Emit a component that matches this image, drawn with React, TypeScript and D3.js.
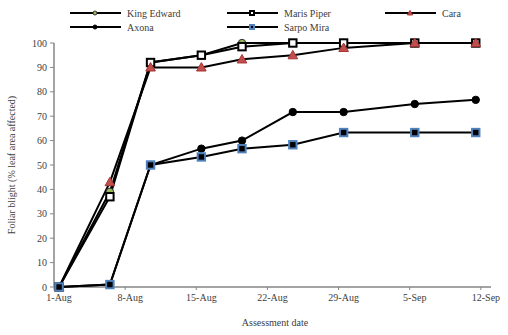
import React from "react";
import * as d3 from "d3";

const dates = ["2015-08-01", "2015-08-06", "2015-08-10", "2015-08-15", "2015-08-19", "2015-08-24", "2015-08-29", "2015-09-05", "2015-09-11"];
const kingEdward = [0, 39, 92, 95, 100, 100, 100, 100, 100];
const marisPiper = [0, 37, 92, 95, 98.5, 100, 100, 100, 100];
const cara = [0, 43, 90, 90, 93.3, 95, 98, 100, 100];
const axona = [0, 1, 50, 56.7, 60, 71.7, 71.7, 75, 76.7];
const sarpoMira = [0, 1, 50, 53.3, 56.7, 58.3, 63.3, 63.3, 63.3];
const tickDates = ["2015-08-01", "2015-08-08", "2015-08-15", "2015-08-22", "2015-08-29", "2015-09-05", "2015-09-12"];
const yTicks = [0, 10, 20, 30, 40, 50, 60, 70, 80, 90, 100];

const parse = d3.utcParse("%Y-%m-%d");
const fmt = d3.utcFormat("%-d-%b");
const DAY = 86400000;

const series = [
  { name: "King Edward", values: kingEdward, marker: "circle", fill: "#9BBB59", stroke: "#333" },
  { name: "Maris Piper", values: marisPiper, marker: "square", fill: "#fff", stroke: "#000" },
  { name: "Cara", values: cara, marker: "triangle", fill: "#C0504D", stroke: "#a33" },
  { name: "Axona", values: axona, marker: "circle", fill: "#000", stroke: "#000" },
  { name: "Sarpo Mira", values: sarpoMira, marker: "square", fill: "#000", stroke: "#4F81BD" },
];

function Marker({ type, x, y, fill, stroke, s }: any) {
  if (type === "square") {
    return <rect x={x - s} y={y - s} width={2 * s} height={2 * s} fill={fill} stroke={stroke} strokeWidth={2} />;
  }
  if (type === "triangle") {
    const h = s * 1.3;
    return <path d={`M${x},${y - h}L${x + h},${y + h * 0.75}L${x - h},${y + h * 0.75}Z`} fill={fill} stroke={stroke} strokeWidth={1} />;
  }
  return <circle cx={x} cy={y} r={s} fill={fill} stroke={stroke} strokeWidth={1} />;
}

export default function App() {
  const x = d3.scaleUtc().domain([parse("2015-08-01")!, parse("2015-09-13")!]).range([54, 491]);
  const y = d3.scaleLinear().domain([0, 100]).range([287, 43]);
  const px = (d: string) => x(new Date(parse(d)!.getTime() + DAY / 2));
  const line = d3.line<number>().x((_, i) => px(dates[i])).y((v) => y(v));

  const legend = [
    { s: series[0], lx: 70, ly: 13 },
    { s: series[1], lx: 227, ly: 13 },
    { s: series[2], lx: 385, ly: 13 },
    { s: series[3], lx: 70, ly: 27 },
    { s: series[4], lx: 227, ly: 27 },
  ];

  return (
    <svg width={508} height={335} style={{ position: "absolute", left: 0, top: 0, background: "#fff", fontFamily: "'Liberation Serif', serif" }}>
      {/* y axis */}
      <line x1={54} x2={54} y1={y(100)} y2={y(0)} stroke="#868686" strokeWidth={1.5} />
      {yTicks.map((t) => (
        <g key={t}>
          <line x1={50} x2={54} y1={y(t)} y2={y(t)} stroke="#868686" />
          <text x={47} y={y(t)} dy="0.35em" textAnchor="end" fontSize={10} fill="#404040">{t}</text>
        </g>
      ))}
      {/* x axis */}
      <line x1={54} x2={491} y1={y(0)} y2={y(0)} stroke="#868686" strokeWidth={1.5} />
      {tickDates.map((d) => (
        <g key={d}>
          <line x1={x(parse(d)!)} x2={x(parse(d)!)} y1={y(0)} y2={y(0) + 3} stroke="#868686" />
          <text x={px(d)} y={y(0) + 14} textAnchor="middle" fontSize={10} fill="#404040">{fmt(parse(d)!)}</text>
        </g>
      ))}
      <text x={275} y={326} textAnchor="middle" fontSize={10} fill="#404040">Assessment date</text>
      <text transform={`translate(15,165) rotate(-90)`} textAnchor="middle" fontSize={10} fill="#404040">Foliar blight (% leaf area affected)</text>

      {series.map((s) => (
        <path key={s.name} d={line(s.values)!} fill="none" stroke="#000" strokeWidth={2} />
      ))}
      {series.map((s) => (
        <g key={s.name + "m"}>
          {s.values.map((v, i) => (
            <Marker key={i} type={s.marker} x={px(dates[i])} y={y(v)} fill={s.fill} stroke={s.stroke} s={3.7} />
          ))}
        </g>
      ))}

      {legend.map(({ s, lx, ly }) => (
        <g key={s.name + "l"}>
          <line x1={lx} x2={lx + 51} y1={ly} y2={ly} stroke="#000" strokeWidth={2} />
          <Marker type={s.marker} x={lx + 25} y={ly} fill={s.fill} stroke={s.stroke} s={2} />
          <text x={lx + 57} y={ly} dy="0.35em" fontSize={10} fill="#404040">{s.name}</text>
        </g>
      ))}
    </svg>
  );
}
